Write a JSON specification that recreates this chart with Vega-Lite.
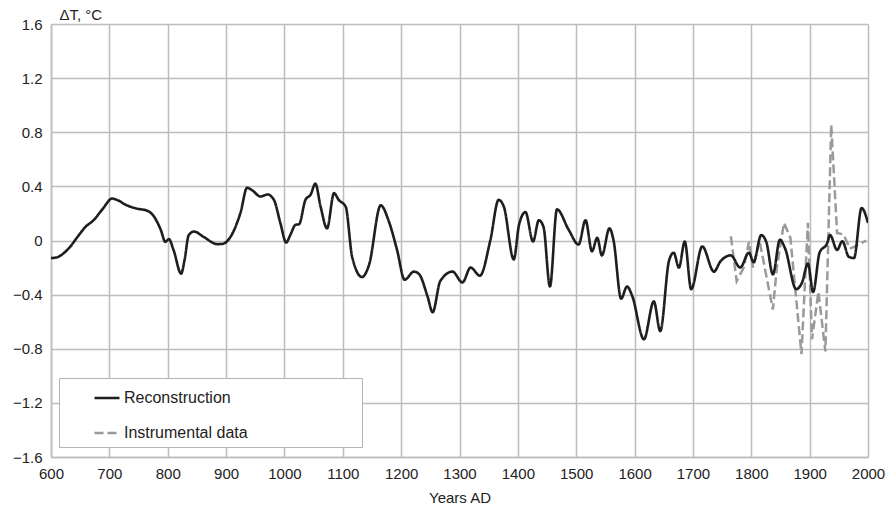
{
  "$schema": "https://vega.github.io/schema/vega-lite/v6.json",
  "width": 817,
  "height": 433,
  "autosize": "none",
  "padding": {"left": 51, "top": 24, "right": 26, "bottom": 57},
  "background": "white",
  "config": {
    "view": {"stroke": null},
    "font": "Liberation Sans",
    "axis": {
      "labelFont": "Liberation Sans",
      "labelFontSize": 15,
      "labelColor": "#222222",
      "titleFont": "Liberation Sans",
      "titleFontSize": 15,
      "titleFontWeight": "normal",
      "titleColor": "#222222",
      "gridColor": "#bdbdbd",
      "gridWidth": 1.5,
      "domainColor": "#bdbdbd",
      "domainWidth": 1.5
    }
  },
  "data": {
    "values": [
      {"year": 600, "value": -0.13, "series": "Reconstruction"},
      {"year": 610, "value": -0.125, "series": "Reconstruction"},
      {"year": 620, "value": -0.1, "series": "Reconstruction"},
      {"year": 633, "value": -0.045, "series": "Reconstruction"},
      {"year": 646, "value": 0.03, "series": "Reconstruction"},
      {"year": 659, "value": 0.1, "series": "Reconstruction"},
      {"year": 673, "value": 0.15, "series": "Reconstruction"},
      {"year": 688, "value": 0.23, "series": "Reconstruction"},
      {"year": 705, "value": 0.31, "series": "Reconstruction"},
      {"year": 713, "value": 0.3, "series": "Reconstruction"},
      {"year": 730, "value": 0.26, "series": "Reconstruction"},
      {"year": 748, "value": 0.235, "series": "Reconstruction"},
      {"year": 765, "value": 0.22, "series": "Reconstruction"},
      {"year": 776, "value": 0.18, "series": "Reconstruction"},
      {"year": 788, "value": 0.08, "series": "Reconstruction"},
      {"year": 796, "value": -0.01, "series": "Reconstruction"},
      {"year": 802, "value": 0.01, "series": "Reconstruction"},
      {"year": 810, "value": -0.07, "series": "Reconstruction"},
      {"year": 823, "value": -0.245, "series": "Reconstruction"},
      {"year": 829, "value": -0.14, "series": "Reconstruction"},
      {"year": 836, "value": 0.04, "series": "Reconstruction"},
      {"year": 845, "value": 0.066, "series": "Reconstruction"},
      {"year": 862, "value": 0.025, "series": "Reconstruction"},
      {"year": 885, "value": -0.027, "series": "Reconstruction"},
      {"year": 894, "value": -0.025, "series": "Reconstruction"},
      {"year": 908, "value": 0.03, "series": "Reconstruction"},
      {"year": 925, "value": 0.21, "series": "Reconstruction"},
      {"year": 936, "value": 0.39, "series": "Reconstruction"},
      {"year": 945, "value": 0.37, "series": "Reconstruction"},
      {"year": 959, "value": 0.325, "series": "Reconstruction"},
      {"year": 971, "value": 0.34, "series": "Reconstruction"},
      {"year": 982, "value": 0.3, "series": "Reconstruction"},
      {"year": 993, "value": 0.13, "series": "Reconstruction"},
      {"year": 1003, "value": -0.015, "series": "Reconstruction"},
      {"year": 1010, "value": 0.04, "series": "Reconstruction"},
      {"year": 1019, "value": 0.116, "series": "Reconstruction"},
      {"year": 1025, "value": 0.12, "series": "Reconstruction"},
      {"year": 1036, "value": 0.3, "series": "Reconstruction"},
      {"year": 1045, "value": 0.34, "series": "Reconstruction"},
      {"year": 1053, "value": 0.42, "series": "Reconstruction"},
      {"year": 1062, "value": 0.25, "series": "Reconstruction"},
      {"year": 1073, "value": 0.09, "series": "Reconstruction"},
      {"year": 1085, "value": 0.35, "series": "Reconstruction"},
      {"year": 1093, "value": 0.3, "series": "Reconstruction"},
      {"year": 1105, "value": 0.25, "series": "Reconstruction"},
      {"year": 1116, "value": -0.12, "series": "Reconstruction"},
      {"year": 1133, "value": -0.27, "series": "Reconstruction"},
      {"year": 1145, "value": -0.18, "series": "Reconstruction"},
      {"year": 1165, "value": 0.26, "series": "Reconstruction"},
      {"year": 1179, "value": 0.14, "series": "Reconstruction"},
      {"year": 1193, "value": -0.07, "series": "Reconstruction"},
      {"year": 1206, "value": -0.29, "series": "Reconstruction"},
      {"year": 1222, "value": -0.23, "series": "Reconstruction"},
      {"year": 1231, "value": -0.25, "series": "Reconstruction"},
      {"year": 1245, "value": -0.41, "series": "Reconstruction"},
      {"year": 1254, "value": -0.53, "series": "Reconstruction"},
      {"year": 1267, "value": -0.3, "series": "Reconstruction"},
      {"year": 1288, "value": -0.23, "series": "Reconstruction"},
      {"year": 1305, "value": -0.31, "series": "Reconstruction"},
      {"year": 1319, "value": -0.2, "series": "Reconstruction"},
      {"year": 1335, "value": -0.26, "series": "Reconstruction"},
      {"year": 1353, "value": 0.005, "series": "Reconstruction"},
      {"year": 1367, "value": 0.3, "series": "Reconstruction"},
      {"year": 1376, "value": 0.25, "series": "Reconstruction"},
      {"year": 1393, "value": -0.14, "series": "Reconstruction"},
      {"year": 1402, "value": 0.116, "series": "Reconstruction"},
      {"year": 1413, "value": 0.21, "series": "Reconstruction"},
      {"year": 1426, "value": -0.007, "series": "Reconstruction"},
      {"year": 1436, "value": 0.15, "series": "Reconstruction"},
      {"year": 1444, "value": 0.1, "series": "Reconstruction"},
      {"year": 1455, "value": -0.34, "series": "Reconstruction"},
      {"year": 1467, "value": 0.23, "series": "Reconstruction"},
      {"year": 1487, "value": 0.08, "series": "Reconstruction"},
      {"year": 1504, "value": -0.03, "series": "Reconstruction"},
      {"year": 1516, "value": 0.15, "series": "Reconstruction"},
      {"year": 1527, "value": -0.08, "series": "Reconstruction"},
      {"year": 1536, "value": 0.02, "series": "Reconstruction"},
      {"year": 1544, "value": -0.11, "series": "Reconstruction"},
      {"year": 1557, "value": 0.09, "series": "Reconstruction"},
      {"year": 1564, "value": 0.0, "series": "Reconstruction"},
      {"year": 1577, "value": -0.43, "series": "Reconstruction"},
      {"year": 1587, "value": -0.34, "series": "Reconstruction"},
      {"year": 1596, "value": -0.41, "series": "Reconstruction"},
      {"year": 1616, "value": -0.73, "series": "Reconstruction"},
      {"year": 1633, "value": -0.45, "series": "Reconstruction"},
      {"year": 1644, "value": -0.67, "series": "Reconstruction"},
      {"year": 1659, "value": -0.15, "series": "Reconstruction"},
      {"year": 1667, "value": -0.09, "series": "Reconstruction"},
      {"year": 1676, "value": -0.2, "series": "Reconstruction"},
      {"year": 1686, "value": -0.007, "series": "Reconstruction"},
      {"year": 1697, "value": -0.36, "series": "Reconstruction"},
      {"year": 1716, "value": -0.044, "series": "Reconstruction"},
      {"year": 1736, "value": -0.23, "series": "Reconstruction"},
      {"year": 1747, "value": -0.155, "series": "Reconstruction"},
      {"year": 1765, "value": -0.11, "series": "Reconstruction"},
      {"year": 1781, "value": -0.2, "series": "Reconstruction"},
      {"year": 1796, "value": -0.09, "series": "Reconstruction"},
      {"year": 1804, "value": -0.16, "series": "Reconstruction"},
      {"year": 1817, "value": 0.04, "series": "Reconstruction"},
      {"year": 1826, "value": -0.015, "series": "Reconstruction"},
      {"year": 1837, "value": -0.25, "series": "Reconstruction"},
      {"year": 1849, "value": 0.005, "series": "Reconstruction"},
      {"year": 1858, "value": -0.06, "series": "Reconstruction"},
      {"year": 1877, "value": -0.36, "series": "Reconstruction"},
      {"year": 1887, "value": -0.31, "series": "Reconstruction"},
      {"year": 1897, "value": -0.17, "series": "Reconstruction"},
      {"year": 1906, "value": -0.38, "series": "Reconstruction"},
      {"year": 1917, "value": -0.09, "series": "Reconstruction"},
      {"year": 1930, "value": -0.02, "series": "Reconstruction"},
      {"year": 1935, "value": 0.04, "series": "Reconstruction"},
      {"year": 1947, "value": -0.07, "series": "Reconstruction"},
      {"year": 1956, "value": -0.005, "series": "Reconstruction"},
      {"year": 1967, "value": -0.12, "series": "Reconstruction"},
      {"year": 1976, "value": -0.13, "series": "Reconstruction"},
      {"year": 1989, "value": 0.24, "series": "Reconstruction"},
      {"year": 2000, "value": 0.13, "series": "Reconstruction"},
      {"year": 1765, "value": 0.03, "series": "Instrumental data"},
      {"year": 1775, "value": -0.3, "series": "Instrumental data"},
      {"year": 1787, "value": -0.2, "series": "Instrumental data"},
      {"year": 1796, "value": -0.01, "series": "Instrumental data"},
      {"year": 1803, "value": -0.2, "series": "Instrumental data"},
      {"year": 1814, "value": 0.0, "series": "Instrumental data"},
      {"year": 1837, "value": -0.51, "series": "Instrumental data"},
      {"year": 1844, "value": -0.19, "series": "Instrumental data"},
      {"year": 1856, "value": 0.13, "series": "Instrumental data"},
      {"year": 1867, "value": 0.02, "series": "Instrumental data"},
      {"year": 1886, "value": -0.84, "series": "Instrumental data"},
      {"year": 1897, "value": 0.13, "series": "Instrumental data"},
      {"year": 1904, "value": -0.73, "series": "Instrumental data"},
      {"year": 1915, "value": -0.38, "series": "Instrumental data"},
      {"year": 1927, "value": -0.82, "series": "Instrumental data"},
      {"year": 1937, "value": 0.855, "series": "Instrumental data"},
      {"year": 1947, "value": 0.055, "series": "Instrumental data"},
      {"year": 1958, "value": 0.045, "series": "Instrumental data"},
      {"year": 1969, "value": -0.06, "series": "Instrumental data"},
      {"year": 1980, "value": -0.04, "series": "Instrumental data"},
      {"year": 1997, "value": 0.0, "series": "Instrumental data"}
    ]
  },
  "encoding": {
    "x": {
      "field": "year",
      "type": "quantitative",
      "scale": {"domain": [600, 2000], "nice": false, "zero": false},
      "axis": {
        "title": "Years AD",
        "values": [600, 700, 800, 900, 1000, 1100, 1200, 1300, 1400, 1500, 1600, 1700, 1800, 1900, 2000],
        "format": "d",
        "grid": true,
        "ticks": false,
        "labelPadding": 9,
        "titlePadding": 9,
        "labelFlush": false
      }
    },
    "y": {
      "field": "value",
      "type": "quantitative",
      "scale": {"domain": [-1.6, 1.6], "nice": false, "zero": false},
      "axis": {
        "title": "ΔT, °C",
        "titleAngle": 0,
        "titleAlign": "left",
        "titleBaseline": "middle",
        "titleX": 8,
        "titleY": -10,
        "values": [-1.6, -1.2, -0.8, -0.4, 0, 0.4, 0.8, 1.2, 1.6],
        "labelExpr": "datum.value == 0 ? '0' : format(datum.value, '.1f')",
        "grid": true,
        "ticks": false,
        "labelPadding": 9,
        "labelFlush": false
      }
    },
    "color": {
      "field": "series",
      "type": "nominal",
      "scale": {"domain": ["Reconstruction", "Instrumental data"], "range": ["#1e1e1e", "#9a9a9a"]},
      "legend": {
        "title": null,
        "orient": "none",
        "legendX": 8,
        "legendY": 354,
        "direction": "vertical",
        "fillColor": "white",
        "strokeColor": "#b4b4b4",
        "padding": 6,
        "rowPadding": 13,
        "symbolType": "stroke",
        "symbolSize": 625,
        "symbolStrokeWidth": 2.5,
        "symbolOffset": 28,
        "labelOffset": 3,
        "labelFont": "Liberation Sans",
        "labelFontSize": 16,
        "labelColor": "#222222",
        "labelLimit": 400,
        "labelExpr": "datum.label + '⠀⠀⠀⠀⠀⠀⠀⠀⠀'"
      }
    },
    "strokeDash": {
      "field": "series",
      "type": "nominal",
      "scale": {"domain": ["Reconstruction", "Instrumental data"], "range": [[1, 0], [9, 4]]},
      "legend": null
    }
  },
  "layer": [
    {
      "transform": [{"filter": "datum.series == 'Instrumental data'"}],
      "mark": {"type": "line", "strokeWidth": 2.5, "interpolate": "linear", "clip": true}
    },
    {
      "transform": [{"filter": "datum.series == 'Reconstruction'"}],
      "mark": {"type": "line", "strokeWidth": 2.6, "interpolate": "monotone", "clip": true}
    }
  ]
}
